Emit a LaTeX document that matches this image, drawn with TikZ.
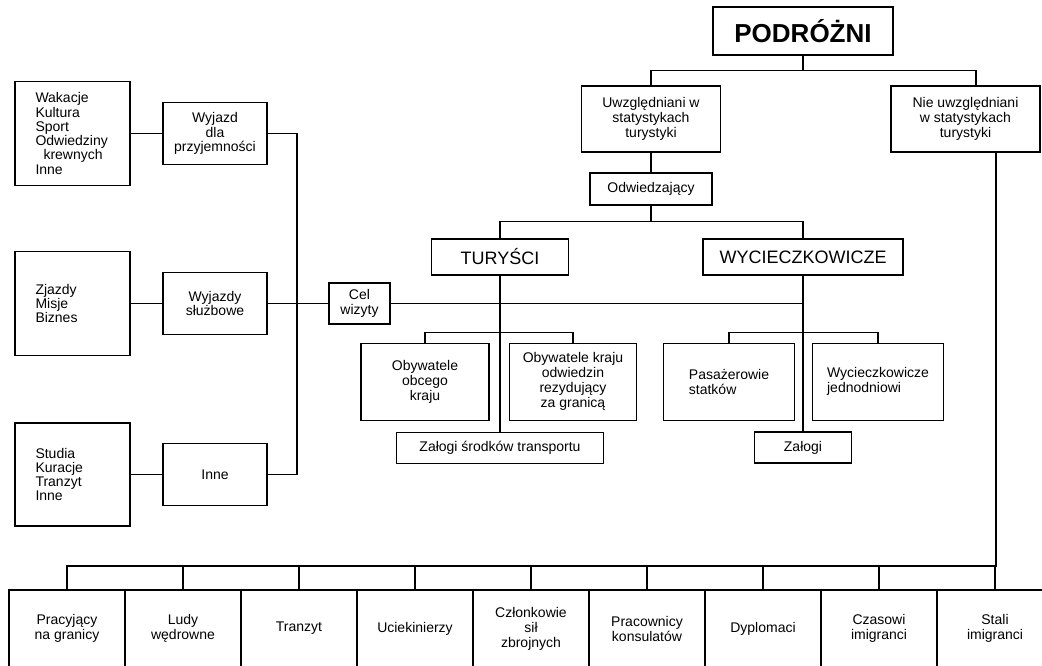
\documentclass[tikz,border=0pt]{standalone}
\usepackage{fontspec}
\setmainfont{Liberation Sans}
\usepackage{tikz}

\tikzset{
  box/.style={draw,line width=1.1pt,align=center,inner sep=0pt,
    font=\fontsize{14}{15}\selectfont},
  leftbox/.style={box,font=\fontsize{14}{14.3}\selectfont},
  listbox/.style={leftbox,align=left,text width=74pt,minimum width=115,minimum height=104},
  link/.style={line width=1.1pt}
}

\begin{document}
\begin{tikzpicture}[x=1pt,y=-1pt]
\useasboundingbox (0,0) rectangle (1042,666);

\node[box,minimum width=180,minimum height=48,font=\bfseries\fontsize{26}{28}\selectfont] (podrozni) at (803,31) {PODRÓŻNI};
\node[box,minimum width=139,minimum height=66] (uwzgl) at (651,119) {Uwzględniani w\\statystykach\\turystyki};
\node[box,minimum width=149,minimum height=66] (nieuwzgl) at (965.5,119) {Nie uwzględniani\\w statystykach\\turystyki};
\node[box,minimum width=122,minimum height=32] (odw) at (651,189) {Odwiedzający};

\node[box,minimum width=137,minimum height=36,font=\fontsize{18}{20}\selectfont] (turysci) at (500,257) {TURYŚCI};
\node[box,minimum width=200,minimum height=36,font=\fontsize{18}{20}\selectfont] (wyciecz) at (803,257) {WYCIECZKOWICZE};
\node[box,minimum width=61,minimum height=41] (cel) at (359.5,303.5) {Cel\\wizyty};

\node[box,minimum width=128,minimum height=77] (obcy) at (425,381.7) {Obywatele\\obcego\\kraju};
\node[box,minimum width=127,minimum height=77] (kraj) at (573,381.7) {Obywatele kraju\\odwiedzin\\rezydujący\\za granicą};
\node[box,align=left,minimum width=131,minimum height=77] (pasaz) at (729,381.7) {Pasażerowie\\statków};
\node[box,align=left,minimum width=131,minimum height=77] (jedn) at (878,381.7) {Wycieczkowicze\\jednodniowi};
\node[box,minimum width=207,minimum height=31] (zalsr) at (500,447.8) {Załogi środków transportu};
\node[box,minimum width=97,minimum height=31] (zal) at (803,447.5) {Załogi};

% cel wizyty
\node[listbox] (wak) at (72.5,133.5) {Wakacje\\Kultura\\Sport\\Odwiedziny\\\hspace*{8pt}krewnych\\Inne};
\node[listbox] (zjazd) at (72.5,303.5) {Zjazdy\\Misje\\Biznes};
\node[listbox,minimum height=103] (stud) at (72.5,474.5) {Studia\\Kuracje\\Tranzyt\\Inne};
\node[leftbox,minimum width=104,minimum height=62] (przyj) at (215,133.5) {Wyjazd\\dla\\przyjemności};
\node[leftbox,minimum width=104,minimum height=62] (sluzb) at (215,303.5) {Wyjazdy\\służbowe};
\node[leftbox,minimum width=104,minimum height=62] (inne) at (215,474.5) {Inne};
\coordinate (cel1) at (297,133.5);
\coordinate (cel3) at (297,474.5);

% nie uwzgledniani
\foreach \name/\txt [count=\i from 0] in {p1/{Pracyjący\\na granicy},p2/{Ludy\\wędrowne},p3/Tranzyt,p4/Uciekinierzy,
  p5/{Członkowie\\sił\\zbrojnych},p6/{Pracownicy\\konsulatów},p7/Dyplomaci,p8/{Czasowi\\imigranci},p9/{Stali\\imigranci}}
  \node[box,minimum width=116,minimum height=77] (\name) at (67+116*\i,628.5) {\txt};

\draw[link] (podrozni.south) -- ++(0,15) -| (uwzgl.north);
\draw[link] (podrozni.south) -- ++(0,15) -| ([xshift=10.5pt]nieuwzgl.north);
\draw[link] (uwzgl.south) -- (odw.north);
\draw[link] (odw.south) -- ++(0,16) -| (turysci.north);
\draw[link] (odw.south) -- ++(0,16) -| (wyciecz.north);
\draw[link] (turysci.south) -- (zalsr.north);
\draw[link] (wyciecz.south) -- (zal.north);
\draw[link] (cel.east) -- (cel.east -| wyciecz.south);
\draw[link] (obcy.north) -- ++(0,-10.6) -| (kraj.north);
\draw[link] (pasaz.north) -- ++(0,-10.6) -| (jedn.north);

\draw[link] (wak) -- (przyj);
\draw[link] (zjazd) -- (sluzb);
\draw[link] (stud) -- (inne);
\draw[link] (przyj.east) -- (cel1) -- (cel3) -- (inne.east);
\draw[link] (sluzb.east) -- (cel.west);

\draw[link] ([xshift=30.5pt]nieuwzgl.south) |- (p1.north |- 0,566) -- (p1.north);
\foreach \name in {p2,p3,p4,p5,p6,p7,p8,p9}
  \draw[link] (\name.north) -- ++(0,-24);
\end{tikzpicture}
\end{document}
